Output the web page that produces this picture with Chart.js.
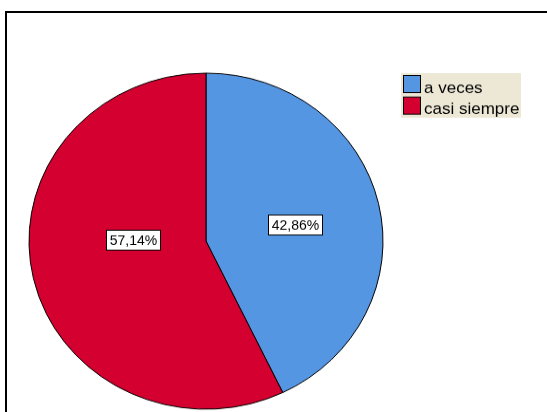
<!DOCTYPE html>
<html>
<head>
<meta charset="utf-8">
<script src="https://cdn.jsdelivr.net/npm/chart.js@4.4.0/dist/chart.umd.min.js"></script>
<style>
  body { margin: 0; background: #fff; overflow: hidden; }
  #frame { position: absolute; left: 5px; top: 11px; width: 600px; height: 500px; border: 2px solid #000; }
  #pie { position: absolute; left: 0; top: 0; }
</style>
</head>
<body>
<div id="frame"></div>
<!-- drawn 434 tall, shown 412 tall: the pie comes out slightly oval -->
<canvas id="pie" width="547" height="434" style="width:547px;height:412px"></canvas>
<script>
const categories = ["a veces", "casi siempre"];
const percents = [42.86, 57.14];
const sliceColors = ["#5596e3", "#d30030"];

function percentText(v) {
  return v.toFixed(2).replace('.', ',') + '%';
}

// value boxes inside each slice
const sliceLabels = {
  id: 'sliceLabels',
  afterDatasetsDraw(chart, args, opts) {
    const ctx = chart.ctx;
    const arcs = chart.getDatasetMeta(0).data;
    ctx.save();
    ctx.font = opts.font;
    ctx.textAlign = 'center';
    ctx.textBaseline = 'middle';
    ctx.lineWidth = 1;
    arcs.forEach((arc, i) => {
      const p = opts.place[i];
      const a = (arc.startAngle + arc.endAngle) / 2 + p.turn * Math.PI / 180;
      const x = arc.x + Math.cos(a) * arc.outerRadius * p.r;
      const y = arc.y + Math.sin(a) * arc.outerRadius * p.r;
      const text = percentText(percents[i]);
      const w = Math.round(ctx.measureText(text).width + 7);
      const h = 21;
      const bx = Math.round(x - w / 2) + 0.5;
      const by = Math.round(y - h / 2) + 0.5;
      ctx.fillStyle = '#fff';
      ctx.fillRect(bx, by, w, h);
      ctx.strokeStyle = '#000';
      ctx.strokeRect(bx, by, w, h);
      ctx.fillStyle = '#000';
      ctx.fillText(text, bx + w / 2, by + h / 2 + 1);
    });
    ctx.restore();
  }
};

// legend box in the top right corner
const boxLegend = {
  id: 'boxLegend',
  afterDraw(chart, args, opts) {
    const ctx = chart.ctx;
    ctx.save();
    ctx.fillStyle = opts.background;
    ctx.fillRect(opts.x, opts.y, opts.width, opts.height);
    ctx.font = opts.font;
    ctx.textBaseline = 'alphabetic';
    ctx.lineWidth = 1;
    categories.forEach((name, i) => {
      const sy = opts.y + 2.5 + i * opts.step;
      ctx.fillStyle = sliceColors[i];
      ctx.fillRect(opts.x + 2.5, sy, opts.swatch, opts.swatch + 1);
      ctx.strokeStyle = '#000';
      ctx.strokeRect(opts.x + 2.5, sy, opts.swatch, opts.swatch + 1);
      ctx.fillStyle = '#000';
      ctx.fillText(name, opts.x + 23, sy + opts.swatch + 1);
    });
    ctx.restore();
  }
};

const ctx = document.getElementById('pie').getContext('2d');
const pieChart = new Chart(ctx, {
  type: 'pie',
  data: {
    labels: categories,
    datasets: [{
      data: percents,
      backgroundColor: sliceColors,
      borderColor: '#000',
      borderWidth: 1,
      hoverOffset: 0,
      offset: 0
    }]
  },
  options: {
    responsive: false,
    animation: false,
    radius: 177,
    layout: { padding: { left: 0, right: 135, top: 74, bottom: 0 } },
    plugins: {
      legend: { display: false },
      tooltip: { enabled: false },
      sliceLabels: {
        font: '14px "Liberation Sans", Arial, sans-serif',
        place: [{ r: 0.512, turn: 1.8 }, { r: 0.41, turn: 13.7 }]
      },
      boxLegend: {
        x: 401, y: 77, width: 120, height: 47,
        swatch: 17, step: 22.7,
        background: '#ede8d6',
        font: '17px "Liberation Sans", Arial, sans-serif'
      }
    }
  },
  plugins: [sliceLabels, boxLegend]
});
</script>
</body>
</html>
